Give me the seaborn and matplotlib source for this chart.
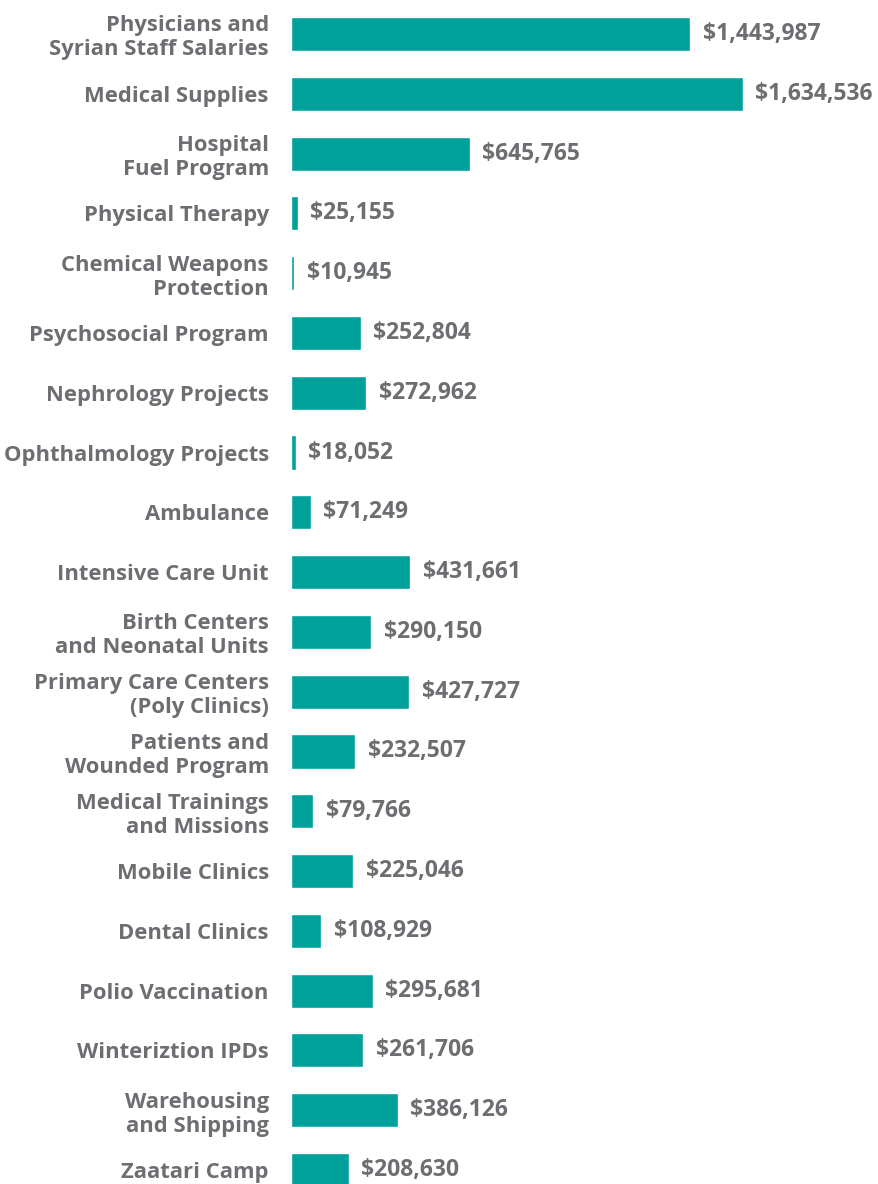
import matplotlib
matplotlib.use("Agg")
import matplotlib.pyplot as plt
import seaborn as sns
import pandas as pd

# =========================
# DATA
# =========================
categories = [
    "Physicians and\nSyrian Staff Salaries",
    "Medical Supplies",
    "Hospital\nFuel Program",
    "Physical Therapy",
    "Chemical Weapons\nProtection",
    "Psychosocial Program",
    "Nephrology Projects",
    "Ophthalmology Projects",
    "Ambulance",
    "Intensive Care Unit",
    "Birth Centers\nand Neonatal Units",
    "Primary Care Centers\n(Poly Clinics)",
    "Patients and\nWounded Program",
    "Medical Trainings\nand Missions",
    "Mobile Clinics",
    "Dental Clinics",
    "Polio Vaccination",
    "Winteriztion IPDs",
    "Warehousing\nand Shipping",
    "Zaatari Camp",
]
amounts = [
    1443987, 1634536, 645765, 25155, 10945, 252804, 272962, 18052, 71249,
    431661, 290150, 427727, 232507, 79766, 225046, 108929, 295681, 261706,
    386126, 208630,
]

df = pd.DataFrame({"program": categories, "amount": amounts})

BAR = "#00A19A"
GREY = "#6D6E71"

# =========================
# FIGURE
# =========================
sns.set_theme(style="white")
plt.rcParams["font.family"] = ["Open Sans", "DejaVu Sans"]

W, H = 879, 1184
fig = plt.figure(figsize=(W / 100, H / 100), dpi=100)
left_px = 291
ax = fig.add_axes([left_px / W, 0, 1 - left_px / W, 1])

sns.barplot(data=df, x="amount", y="program", color=BAR, width=0.57,
            saturation=1, ax=ax, orient="h")

# scale: biggest bar ends at ~743 px
xmax = max(amounts) * (W - left_px) / (743 - left_px)
ax.set_xlim(0, xmax)
pitch = 59.8
ax.set_ylim(19 + (H - 1170) / pitch, -34 / pitch)

for i, v in enumerate(amounts):
    ax.annotate(f"${v:,.0f}", xy=(v, i), xytext=(9, 0), textcoords="offset points",
                ha="left", va="center", fontsize=16.5, fontweight="bold", color=GREY)

ax.set_yticks(range(len(categories)))
ax.set_yticklabels(categories, fontsize=15.8, fontweight="bold", color=GREY,
                   linespacing=1.18)
ax.tick_params(axis="y", length=0, pad=16)
ax.set_xticks([])
ax.set_xlabel("")
ax.set_ylabel("")
sns.despine(ax=ax, left=True, bottom=True)

fig.savefig("out.png", dpi=100)
